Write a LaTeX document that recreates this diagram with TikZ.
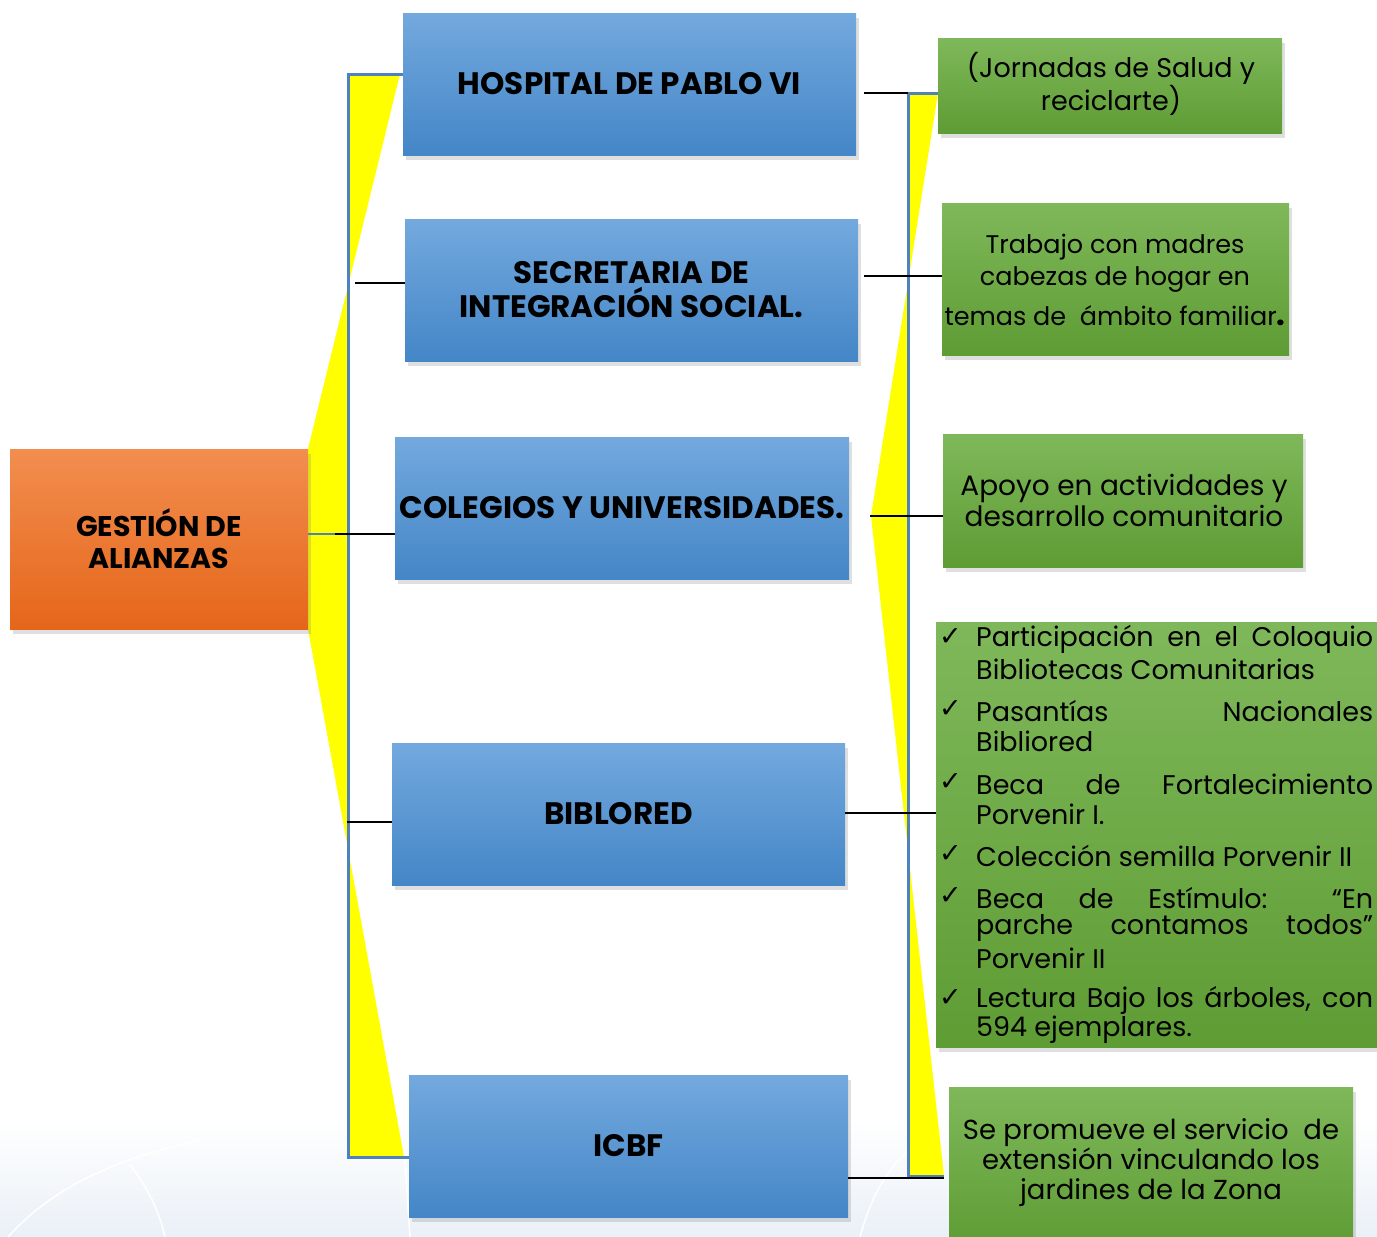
\documentclass[tikz,border=0pt]{standalone}
\usepackage{fontspec}
\setmainfont{Poppins}
\newfontfamily\symfont{DejaVu Sans}
\usetikzlibrary{shadows}
\definecolor{blueT}{RGB}{115,169,222}
\definecolor{blueB}{RGB}{68,134,199}
\definecolor{orT}{RGB}{242,142,79}
\definecolor{orB}{RGB}{229,102,26}
\definecolor{grT}{RGB}{127,184,90}
\definecolor{grB}{RGB}{94,156,52}
\definecolor{brk}{RGB}{79,129,189}
\definecolor{ylw}{RGB}{255,255,0}
\definecolor{bgB}{RGB}{234,240,247}
\tikzset{
  shad/.style={drop shadow={opacity=0.25,shadow xshift=3pt,shadow yshift=-5pt}},
  bluebox/.style={rectangle,inner sep=0pt,top color=blueT,bottom color=blueB,shad,align=center,
    font=\bfseries\fontsize{31}{34}\selectfont},
  orbox/.style={rectangle,inner sep=0pt,top color=orT,bottom color=orB,shad,align=center,
    font=\bfseries\fontsize{28.5}{32}\selectfont},
  grbox/.style={rectangle,inner sep=0pt,top color=grT,bottom color=grB,shad},
  grtext/.style={align=center,inner sep=0pt,font=\fontsize{27.5}{30}\selectfont},
  litem/.style={anchor=west,inner sep=0pt,font=\fontsize{27}{30}\selectfont},
  chk/.style={anchor=west,inner sep=0pt,font=\symfont\fontsize{27}{30}\selectfont},
  brkline/.style={draw=brk,line width=3pt},
  conn/.style={draw=black,line width=1.5pt},
}
\newcommand{\jl}[1]{\makebox[397pt][s]{#1}}
\begin{document}
\begin{tikzpicture}[x=1pt,y=-1pt]
\useasboundingbox (0,0) rectangle (1377,1237);
% background
\shade[top color=white,bottom color=bgB] (0,1120) rectangle (1377,1237);
\draw[white,line width=1.5pt] (8,1237) .. controls (50,1190) and (110,1160) .. (200,1140);
\draw[white,line width=1.5pt] (130,1165) .. controls (150,1190) and (160,1215) .. (165,1237);
\draw[white,line width=1.5pt] (405,1160) -- (410,1237);
\draw[white,line width=1.5pt] (860,1237) .. controls (870,1200) and (885,1170) .. (910,1150);
% yellow shapes
\fill[ylw] (348,74) -- (400,74) -- (308,449) -- (308,629) -- (404,1157) -- (348,1157) -- cycle;
\fill[ylw] (908,93) -- (938,93) -- (871,516) -- (944,1176) -- (908,1176) -- cycle;
% boxes
\node[orbox,minimum width=298pt,minimum height=180pt] (gest) at (159,539) {GESTIÓN DE\\ALIANZAS};
\node[bluebox,minimum width=453pt,minimum height=142pt] (hosp) at (629.5,84) {HOSPITAL DE PABLO VI};
\node[bluebox,minimum width=453pt,minimum height=142pt] (secr) at (631.5,290) {SECRETARIA DE\\INTEGRACIÓN SOCIAL.};
\node[bluebox,minimum width=454pt,minimum height=142pt] (cole) at (622,508) {COLEGIOS Y UNIVERSIDADES.};
\node[bluebox,minimum width=453pt,minimum height=142pt] (bibl) at (618.5,814) {BIBLORED};
\node[bluebox,minimum width=439pt,minimum height=142pt] (icbf) at (628.5,1146) {ICBF};
\node[grbox,minimum width=344pt,minimum height=95pt] (g1) at (1110,85.5) {};
\node[grtext,font=\fontsize{27}{30}\selectfont] (t1) at (1111,84) {(Jornadas de Salud y\\reciclarte)};
\node[grbox,minimum width=347pt,minimum height=152pt] (g2) at (1115.5,279) {};
\node[grtext,font=\fontsize{25.5}{32}\selectfont] (t2) at (1115,280) {Trabajo con madres\\cabezas de hogar en\\[8pt]temas de~ ámbito familiar{\bfseries\fontsize{31}{32}\selectfont.}};
\node[grbox,minimum width=360pt,minimum height=133pt] (g3) at (1123,500.5) {};
\node[grtext,font=\fontsize{28}{31}\selectfont] (t3) at (1124,500) {Apoyo en actividades y\\desarrollo comunitario};
\node[grbox,minimum width=404pt,minimum height=160pt] (g5) at (1151,1167) {};
\node[grtext] (t5) at (1151,1163) {Se promueve el servicio~ de\\extensión vinculando los\\jardines de la Zona};
\node[grbox,minimum width=441pt,minimum height=425pt] (g4) at (1156.5,834.5) {};
% list
\node[chk] (c1) at (939,637) {✓};
\node[litem] (l1a) at (976,639) {\jl{Participación en el Coloquio}};
\node[litem] (l1b) at (976,669) {Bibliotecas Comunitarias};
\node[chk] (c2) at (939,709) {✓};
\node[litem] (l2a) at (976,711) {\jl{Pasantías Nacionales}};
\node[litem] (l2b) at (976,741) {Bibliored};
\node[chk] (c3) at (939,782) {✓};
\node[litem] (l3a) at (976,784) {\jl{Beca de Fortalecimiento}};
\node[litem] (l3b) at (976,814) {Porvenir I.};
\node[chk] (c4) at (939,854) {✓};
\node[litem] (l4a) at (976,856) {Colección semilla Porvenir II};
\node[chk] (c5) at (939,896) {✓};
\node[litem] (l5a) at (976,898) {\jl{Beca de Estímulo: “En}};
\node[litem] (l5b) at (976,928) {\jl{parche contamos todos”}};
\node[litem] (l5c) at (976,958) {Porvenir II};
\node[chk] (c6) at (939,998) {✓};
\node[litem] (l6a) at (976,1000) {\jl{Lectura Bajo los árboles, con}};
\node[litem] (l6b) at (976,1030) {594 ejemplares.};
% bracket coordinates
\coordinate (lt) at (348,74);
\coordinate (lb) at (348,1157);
\coordinate (rt) at (908,93);
\coordinate (rb) at (908,1176);
% left bracket
\draw[brkline] (hosp.west |- lt) -- (lt) -- (lb) -- (icbf.west |- lb);
\draw[brkline,line width=2pt] (gest.east |- 0,534) -- (348,534);
% right bracket
\draw[brkline] (g1.west |- rt) -- (rt) -- (rb) -- (944,1176);
% black connectors
\coordinate (a1) at (335,534);
\draw[conn] (a1) -- (cole.west |- a1);
\coordinate (a2) at (355,283);
\draw[conn] (a2) -- (secr.west |- a2);
\coordinate (a3) at (347,822);
\draw[conn] (a3) -- (bibl.west |- a3);
\coordinate (b1) at (864,93);
\draw[conn] (b1) -- (rt);
\coordinate (b2) at (864,276);
\draw[conn] (b2) -- (g2.west |- b2);
\coordinate (b3) at (870,516);
\draw[conn] (b3) -- (g3.west |- b3);
\draw[conn] (bibl.east |- 0,813) -- (g4.west |- 0,813);
\draw[conn] (icbf.east |- 0,1178) -- (944,1178);
\end{tikzpicture}
\end{document}
